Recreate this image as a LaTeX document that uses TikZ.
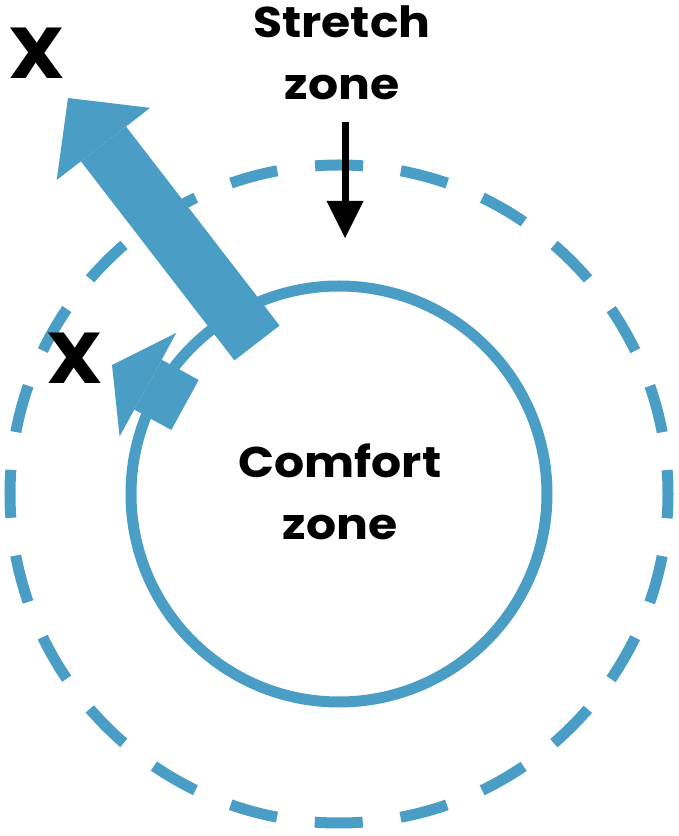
\documentclass[tikz,border=0pt]{standalone}
\usepackage{fontspec}
\setmainfont{Poppins}[FakeStretch=1.1]
\usetikzlibrary{arrows.meta}
\definecolor{zoneblue}{HTML}{4A9DC4}

\begin{document}
\begin{tikzpicture}[
x=1pt, y=1pt,
comfort/.style={draw=zoneblue, line width=11pt},
stretch/.style={draw=zoneblue, line width=11pt, dash pattern=on 48pt off 38.13pt, dash phase=24pt},
bluearrow/.style={draw=zoneblue, line width=57pt, -{Triangle[length=#1, width=118pt, line width=0pt]}},
pointer/.style={draw=black, line width=7pt, -{Triangle[length=37pt, width=37pt, line width=0pt]}},
zonetext/.style={font=\bfseries\fontsize{43}{62}\selectfont, align=center, anchor=base, inner sep=0pt},
xmark/.style={font=\bfseries\fontsize{72}{72}\selectfont, inner sep=0pt}
]
\useasboundingbox (0,0) rectangle (679,836);

\coordinate (centre) at (339,342);
\draw[stretch] (centre) circle[radius=329];
\draw[comfort] (centre) circle[radius=208];

% arrows out of the comfort zone
\coordinate (bigtail) at (257,493);
\coordinate (bigtip) at (68,738);
\coordinate (smalltail) at (185,431);
\coordinate (smalltip) at (112,471);
\draw[bluearrow=58pt] (bigtail) -- (bigtip);
\draw[bluearrow=41pt] (smalltail) -- (smalltip);

\node[zonetext] (stretchlabel) at (342,736) {Stretch\\zone};
\node[zonetext] (comfortlabel) at (340,296) {Comfort\\zone};
\coordinate (pointtail) at (345,714);
\coordinate (pointtip) at (345,598);
\draw[pointer] (pointtail) -- (pointtip);

\node[xmark] (farx) at (37,783) {X};
\node[xmark] (nearx) at (75,478) {X};
\end{tikzpicture}
\end{document}
